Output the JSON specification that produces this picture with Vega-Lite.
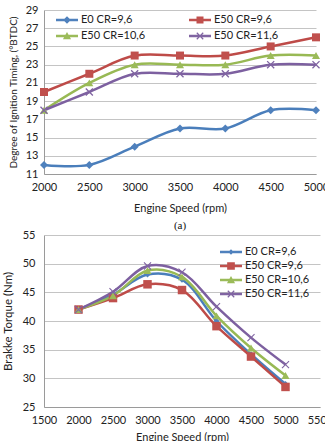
{
  "$schema": "https://vega.github.io/schema/vega-lite/v6.json",
  "background": "white",
  "padding": {"left": 2, "top": 4, "right": 0, "bottom": 0},
  "spacing": -2,
  "datasets": {
    "ign": [
      {"rpm": 2000, "v": 12, "s": "E0 CR=9,6"}, {"rpm": 2500, "v": 12, "s": "E0 CR=9,6"}, {"rpm": 3000, "v": 14, "s": "E0 CR=9,6"}, {"rpm": 3500, "v": 16, "s": "E0 CR=9,6"}, {"rpm": 4000, "v": 16, "s": "E0 CR=9,6"}, {"rpm": 4500, "v": 18, "s": "E0 CR=9,6"}, {"rpm": 5000, "v": 18, "s": "E0 CR=9,6"},
      {"rpm": 2000, "v": 20, "s": "E50 CR=9,6"}, {"rpm": 2500, "v": 22, "s": "E50 CR=9,6"}, {"rpm": 3000, "v": 24, "s": "E50 CR=9,6"}, {"rpm": 3500, "v": 24, "s": "E50 CR=9,6"}, {"rpm": 4000, "v": 24, "s": "E50 CR=9,6"}, {"rpm": 4500, "v": 25, "s": "E50 CR=9,6"}, {"rpm": 5000, "v": 26, "s": "E50 CR=9,6"},
      {"rpm": 2000, "v": 18, "s": "E50 CR=10,6"}, {"rpm": 2500, "v": 21, "s": "E50 CR=10,6"}, {"rpm": 3000, "v": 23, "s": "E50 CR=10,6"}, {"rpm": 3500, "v": 23, "s": "E50 CR=10,6"}, {"rpm": 4000, "v": 23, "s": "E50 CR=10,6"}, {"rpm": 4500, "v": 24, "s": "E50 CR=10,6"}, {"rpm": 5000, "v": 24, "s": "E50 CR=10,6"},
      {"rpm": 2000, "v": 18, "s": "E50 CR=11,6"}, {"rpm": 2500, "v": 20, "s": "E50 CR=11,6"}, {"rpm": 3000, "v": 22, "s": "E50 CR=11,6"}, {"rpm": 3500, "v": 22, "s": "E50 CR=11,6"}, {"rpm": 4000, "v": 22, "s": "E50 CR=11,6"}, {"rpm": 4500, "v": 23, "s": "E50 CR=11,6"}, {"rpm": 5000, "v": 23, "s": "E50 CR=11,6"}
    ],
    "tq": [
      {"rpm": 2000, "v": 42, "s": "E0 CR=9,6"}, {"rpm": 2500, "v": 44.6, "s": "E0 CR=9,6"}, {"rpm": 3000, "v": 48.1, "s": "E0 CR=9,6"}, {"rpm": 3500, "v": 47.2, "s": "E0 CR=9,6"}, {"rpm": 4000, "v": 40, "s": "E0 CR=9,6"}, {"rpm": 4500, "v": 34.2, "s": "E0 CR=9,6"}, {"rpm": 5000, "v": 29, "s": "E0 CR=9,6"},
      {"rpm": 2000, "v": 42, "s": "E50 CR=9,6"}, {"rpm": 2500, "v": 44, "s": "E50 CR=9,6"}, {"rpm": 3000, "v": 46.4, "s": "E50 CR=9,6"}, {"rpm": 3500, "v": 45.4, "s": "E50 CR=9,6"}, {"rpm": 4000, "v": 39.1, "s": "E50 CR=9,6"}, {"rpm": 4500, "v": 33.8, "s": "E50 CR=9,6"}, {"rpm": 5000, "v": 28.5, "s": "E50 CR=9,6"},
      {"rpm": 2000, "v": 42, "s": "E50 CR=10,6"}, {"rpm": 2500, "v": 44.4, "s": "E50 CR=10,6"}, {"rpm": 3000, "v": 48.8, "s": "E50 CR=10,6"}, {"rpm": 3500, "v": 47.7, "s": "E50 CR=10,6"}, {"rpm": 4000, "v": 40.9, "s": "E50 CR=10,6"}, {"rpm": 4500, "v": 35.3, "s": "E50 CR=10,6"}, {"rpm": 5000, "v": 30.5, "s": "E50 CR=10,6"},
      {"rpm": 2000, "v": 42, "s": "E50 CR=11,6"}, {"rpm": 2500, "v": 45.1, "s": "E50 CR=11,6"}, {"rpm": 3000, "v": 49.6, "s": "E50 CR=11,6"}, {"rpm": 3500, "v": 48.5, "s": "E50 CR=11,6"}, {"rpm": 4000, "v": 42.5, "s": "E50 CR=11,6"}, {"rpm": 4500, "v": 37.1, "s": "E50 CR=11,6"}, {"rpm": 5000, "v": 32.4, "s": "E50 CR=11,6"}
    ]
  },
  "vconcat": [
    {
      "width": 272,
      "height": 164,
      "title": {"text": "(a)", "orient": "bottom", "font": "Liberation Serif", "fontSize": 11, "fontWeight": "normal", "color": "#111111", "offset": 7},
      "data": {"name": "ign"},
      "encoding": {
        "x": {"field": "rpm", "type": "quantitative", "scale": {"domain": [2000, 5000], "nice": false, "zero": false},
              "axis": {"values": [2000, 2500, 3000, 3500, 4000, 4500, 5000], "format": "d", "title": "Engine Speed (rpm)", "grid": false, "labelPadding": 7, "titlePadding": 10}},
        "y": {"field": "v", "type": "quantitative", "scale": {"domain": [11, 29], "nice": false, "zero": false},
              "axis": {"values": [11, 13, 15, 17, 19, 21, 23, 25, 27, 29], "title": "Degree of Ignition Timing, (°BTDC)", "titleFontSize": 10, "labelPadding": 6, "titlePadding": 7}}
      },
      "layer": [
        {
          "mark": {"type": "point", "filled": true, "opacity": 0},
          "encoding": {
            "color": {"field": "s", "type": "nominal",
                      "scale": {"domain": ["E0 CR=9,6", "E50 CR=9,6", "E50 CR=10,6", "E50 CR=11,6"], "range": ["#4F81BD", "#C0504D", "#9BBB59", "#8064A2"]},
                      "legend": {"title": null, "orient": "none", "direction": "horizontal", "legendX": 16, "legendY": 3, "columns": 2, "columnPadding": 43, "rowPadding": 4, "symbolSize": 196, "symbolStrokeWidth": 0, "symbolOpacity": 1, "labelFontSize": 11, "labelOffset": 7}},
            "shape": {"field": "s", "type": "nominal",
                      "scale": {"domain": ["E0 CR=9,6", "E50 CR=9,6", "E50 CR=10,6", "E50 CR=11,6"],
                                "range": ["M-1.57,-0.18H1.57V0.18H-1.57Z M0,-0.55L0.55,0L0,0.55L-0.55,0Z", "M-1.57,-0.18H1.57V0.18H-1.57Z M-0.5,-0.5H0.5V0.5H-0.5Z", "M-1.57,-0.18H1.57V0.18H-1.57Z M0,-0.58L0.58,0.45H-0.58Z", "M-1.57,-0.18H1.57V0.18H-1.57Z M-0.4,-0.52L0.52,0.4L0.4,0.52L-0.52,-0.4Z M-0.52,0.4L0.4,-0.52L0.52,-0.4L-0.4,0.52Z"]},
                      "legend": {"title": null, "orient": "none", "direction": "horizontal", "legendX": 16, "legendY": 3, "columns": 2, "columnPadding": 43, "rowPadding": 4, "symbolSize": 196, "symbolStrokeWidth": 0, "symbolOpacity": 1, "labelFontSize": 11, "labelOffset": 7}}
          }
        },
        {
          "mark": {"type": "line", "interpolate": "catmull-rom", "strokeWidth": 2.5},
          "encoding": {
            "stroke": {"field": "s", "type": "nominal", "legend": null,
                       "scale": {"domain": ["E0 CR=9,6", "E50 CR=9,6", "E50 CR=10,6", "E50 CR=11,6"], "range": ["#4A7EBB", "#BE4B48", "#98B954", "#7D60A0"]}}
          }
        },
        {"transform": [{"filter": {"field": "s", "equal": "E0 CR=9,6"}}], "mark": {"type": "point", "shape": "diamond", "filled": true, "color": "#4F81BD", "size": 64, "opacity": 1}},
        {"transform": [{"filter": {"field": "s", "equal": "E50 CR=9,6"}}], "mark": {"type": "point", "shape": "square", "filled": true, "color": "#C0504D", "size": 64, "opacity": 1}},
        {"transform": [{"filter": {"field": "s", "equal": "E50 CR=10,6"}}], "mark": {"type": "point", "shape": "triangle-up", "filled": true, "color": "#9BBB59", "size": 64, "opacity": 1}},
        {"transform": [{"filter": {"field": "s", "equal": "E50 CR=11,6"}}], "mark": {"type": "point", "shape": "M-1,-1L1,1M-1,1L1,-1", "filled": false, "color": "#8064A2", "strokeWidth": 1.3, "size": 50, "opacity": 1}}
      ]
    },
    {
      "width": 276,
      "height": 172,
      "data": {"name": "tq"},
      "encoding": {
        "x": {"field": "rpm", "type": "quantitative", "scale": {"domain": [1500, 5500], "nice": false, "zero": false},
              "axis": {"values": [1500, 2000, 2500, 3000, 3500, 4000, 4500, 5000, 5500], "format": "d", "title": "Engine Speed (rpm)", "grid": false, "labelPadding": 7, "titlePadding": 6, "labelOverlap": false}},
        "y": {"field": "v", "type": "quantitative", "scale": {"domain": [25, 55], "nice": false, "zero": false},
              "axis": {"values": [25, 30, 35, 40, 45, 50, 55], "title": "Brakke Torque (Nm)", "titleFontSize": 11.5, "labelPadding": 9, "titlePadding": 9}}
      },
      "layer": [
        {
          "mark": {"type": "point", "filled": true, "opacity": 0},
          "encoding": {
            "color": {"field": "s", "type": "nominal",
                      "scale": {"domain": ["E0 CR=9,6", "E50 CR=9,6", "E50 CR=10,6", "E50 CR=11,6"], "range": ["#4F81BD", "#C0504D", "#9BBB59", "#8064A2"]},
                      "legend": {"title": null, "orient": "none", "legendX": 180, "legendY": 10, "columns": 1, "rowPadding": 2, "symbolSize": 196, "symbolStrokeWidth": 0, "symbolOpacity": 1, "labelFontSize": 11, "labelOffset": 7}},
            "shape": {"field": "s", "type": "nominal",
                      "scale": {"domain": ["E0 CR=9,6", "E50 CR=9,6", "E50 CR=10,6", "E50 CR=11,6"],
                                "range": ["M-1.57,-0.18H1.57V0.18H-1.57Z M0,-0.4L0.4,0L0,0.4L-0.4,0Z", "M-1.57,-0.18H1.57V0.18H-1.57Z M-0.55,-0.55H0.55V0.55H-0.55Z", "M-1.57,-0.18H1.57V0.18H-1.57Z M0,-0.58L0.58,0.45H-0.58Z", "M-1.57,-0.18H1.57V0.18H-1.57Z M-0.4,-0.52L0.52,0.4L0.4,0.52L-0.52,-0.4Z M-0.52,0.4L0.4,-0.52L0.52,-0.4L-0.4,0.52Z"]},
                      "legend": {"title": null, "orient": "none", "legendX": 180, "legendY": 10, "columns": 1, "rowPadding": 2, "symbolSize": 196, "symbolStrokeWidth": 0, "symbolOpacity": 1, "labelFontSize": 11, "labelOffset": 7}}
          }
        },
        {
          "mark": {"type": "line", "interpolate": "catmull-rom", "strokeWidth": 2.5},
          "encoding": {
            "stroke": {"field": "s", "type": "nominal", "legend": null,
                       "scale": {"domain": ["E0 CR=9,6", "E50 CR=9,6", "E50 CR=10,6", "E50 CR=11,6"], "range": ["#4A7EBB", "#BE4B48", "#98B954", "#7D60A0"]}}
          }
        },
        {"transform": [{"filter": {"field": "s", "equal": "E0 CR=9,6"}}], "mark": {"type": "point", "shape": "diamond", "filled": true, "color": "#4F81BD", "size": 36, "opacity": 1}},
        {"transform": [{"filter": {"field": "s", "equal": "E50 CR=9,6"}}], "mark": {"type": "point", "shape": "square", "filled": true, "color": "#C0504D", "size": 72, "opacity": 1}},
        {"transform": [{"filter": {"field": "s", "equal": "E50 CR=10,6"}}], "mark": {"type": "point", "shape": "triangle-up", "filled": true, "color": "#9BBB59", "size": 64, "opacity": 1}},
        {"transform": [{"filter": {"field": "s", "equal": "E50 CR=11,6"}}], "mark": {"type": "point", "shape": "M-1,-1L1,1M-1,1L1,-1", "filled": false, "color": "#8064A2", "strokeWidth": 1.1, "size": 50, "opacity": 1}}
      ]
    }
  ],
  "resolve": {"scale": {"color": "independent", "shape": "independent", "stroke": "independent"}},
  "config": {
    "view": {"stroke": null},
    "font": "Lato",
    "axis": {"labelFont": "Lato", "labelFontSize": 11, "labelColor": "#222222", "labelFlush": false, "titleFont": "Lato", "titleFontSize": 11, "titleFontWeight": "normal", "titleColor": "#222222", "gridColor": "#c4c4c4", "domainColor": "#9a9a9a", "ticks": false},
    "legend": {"labelFont": "Lato", "labelColor": "#222222"}
  }
}
